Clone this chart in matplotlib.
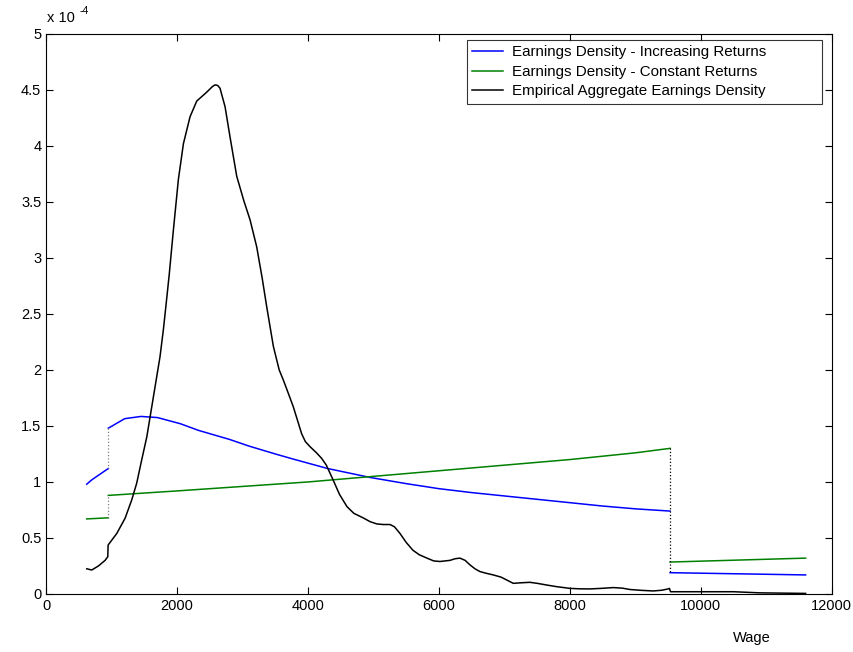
import matplotlib
matplotlib.use("Agg")
import matplotlib.pyplot as plt

plt.rcParams['font.family'] = ['Liberation Sans', 'DejaVu Sans']

# jump points of the model densities
wage_lo = 950
wage_hi = 9530

# increasing returns density (units of 1e-4)
inc_left_x = [620, 700, 800, 900, 950]
inc_left_y = [0.98, 1.02, 1.06, 1.10, 1.12]
inc_mid_x = [950, 1200, 1450, 1700, 2050, 2330, 2800, 3100, 3500, 3800, 4300, 4950,
             5500, 6000, 6500, 7000, 7500, 8000, 8500, 9000, 9530]
inc_mid_y = [1.48, 1.565, 1.585, 1.575, 1.52, 1.46, 1.38, 1.32, 1.25, 1.20, 1.12, 1.04,
             0.985, 0.94, 0.905, 0.875, 0.845, 0.815, 0.785, 0.76, 0.74]
inc_right_x = [9530, 11600]
inc_right_y = [0.19, 0.17]

# constant returns density (units of 1e-4)
con_left_x = [620, 950]
con_left_y = [0.67, 0.68]
con_mid_x = [950, 2000, 3000, 4000, 5000, 6000, 7000, 8000, 9000, 9530]
con_mid_y = [0.88, 0.92, 0.96, 1.00, 1.05, 1.10, 1.15, 1.20, 1.26, 1.30]
con_right_x = [9530, 11600]
con_right_y = [0.285, 0.32]

# empirical aggregate earnings density (units of 1e-4)
emp_x = [620, 697, 799, 901, 942, 947, 1079, 1206, 1308, 1384, 1461, 1537, 1588,
         1664, 1740, 1791, 1835, 1880, 1944, 2020, 2097, 2198, 2300, 2453, 2540,
         2580, 2620, 2656, 2733, 2809, 2911, 3020, 3115, 3216, 3300, 3369, 3471,
         3560, 3623, 3700, 3776, 3903, 3960, 4031, 4130, 4209, 4280, 4382, 4480,
         4595, 4700, 4840, 4950, 5053, 5150, 5252, 5320, 5405, 5500, 5603, 5700,
         5817, 5920, 6015, 6168, 6250, 6321, 6400, 6473, 6550, 6626, 6720, 6830,
         6950, 7135, 7260, 7389, 7500, 7644, 7800, 8000, 8150, 8305, 8480, 8661,
         8800, 8916, 9100, 9272, 9400, 9501, 9520, 9537, 9679, 10000, 10500,
         10900, 11600]
emp_y = [0.225, 0.214, 0.25, 0.30, 0.333, 0.437, 0.54, 0.676, 0.84, 0.99, 1.20, 1.40,
         1.58, 1.85, 2.12, 2.36, 2.60, 2.85, 3.25, 3.70, 4.02, 4.26, 4.40, 4.48, 4.53,
         4.545, 4.54, 4.515, 4.35, 4.08, 3.73, 3.51, 3.34, 3.10, 2.82, 2.565, 2.21,
         2.00, 1.91, 1.79, 1.67, 1.43, 1.36, 1.315, 1.26, 1.21, 1.15, 1.02, 0.89,
         0.78, 0.72, 0.68, 0.645, 0.625, 0.62, 0.62, 0.60, 0.54, 0.46, 0.39, 0.35,
         0.32, 0.295, 0.29, 0.30, 0.315, 0.32, 0.30, 0.26, 0.225, 0.20, 0.185, 0.17,
         0.15, 0.095, 0.10, 0.104, 0.095, 0.08, 0.065, 0.05, 0.046, 0.045, 0.05, 0.057,
         0.052, 0.04, 0.032, 0.027, 0.033, 0.045, 0.05, 0.02, 0.02, 0.02, 0.02,
         0.01, 0.005]

fig = plt.figure(figsize=(8.54, 6.52), dpi=100)
ax = fig.add_axes([0.054, 0.089, 0.920, 0.859])

blue = (0, 0, 1)
green = (0, 0.5, 0)
lw = 1.1

l1, = ax.plot(inc_mid_x, inc_mid_y, color=blue, lw=lw)
ax.plot(inc_left_x, inc_left_y, color=blue, lw=lw)
ax.plot(inc_right_x, inc_right_y, color=blue, lw=lw)
l2, = ax.plot(con_mid_x, con_mid_y, color=green, lw=lw)
ax.plot(con_left_x, con_left_y, color=green, lw=lw)
ax.plot(con_right_x, con_right_y, color=green, lw=lw)
l3, = ax.plot(emp_x, emp_y, color='black', lw=lw)

# dotted jumps
ax.plot([wage_lo, wage_lo], [con_left_y[-1], con_mid_y[0]], color='gray', ls=':', lw=0.9)
ax.plot([wage_lo, wage_lo], [inc_left_y[-1], inc_mid_y[0]], color='gray', ls=':', lw=0.9)
ax.plot([wage_hi, wage_hi], [con_mid_y[-1], inc_right_y[0]], color='black', ls=':', lw=0.9)

ax.set_xlim(0, 12000)
ax.set_ylim(0, 5)
ax.set_xticks(range(0, 12001, 2000))
ax.set_yticks([0, 0.5, 1, 1.5, 2, 2.5, 3, 3.5, 4, 4.5, 5])
ax.set_yticklabels(['0', '0.5', '1', '1.5', '2', '2.5', '3', '3.5', '4', '4.5', '5'])
ax.tick_params(direction='in', top=True, right=True, length=5, labelsize=10.5, width=0.8)
for s in ax.spines.values():
    s.set_linewidth(0.8)

fig.text(0.055, 0.966, 'x 10', fontsize=10.5, ha='left', va='baseline')
fig.text(0.093, 0.979, '-4', fontsize=7.5, ha='left', va='baseline')
fig.text(0.88, 0.01, 'Wage', fontsize=10.5, ha='center', va='bottom')

leg = ax.legend([l1, l2, l3],
                ['Earnings Density - Increasing Returns',
                 'Earnings Density - Constant Returns',
                 'Empirical Aggregate Earnings Density'],
                loc='upper left', bbox_to_anchor=(0.5356, 0.880, 0.4514, 0.109),
                mode='expand', fontsize=10.9,
                frameon=True, fancybox=False, edgecolor='black', handlelength=2.0,
                borderpad=0.35, labelspacing=0.36, handletextpad=0.65, borderaxespad=0)
leg.get_frame().set_linewidth(0.8)

fig.savefig('out.png', dpi=100)
